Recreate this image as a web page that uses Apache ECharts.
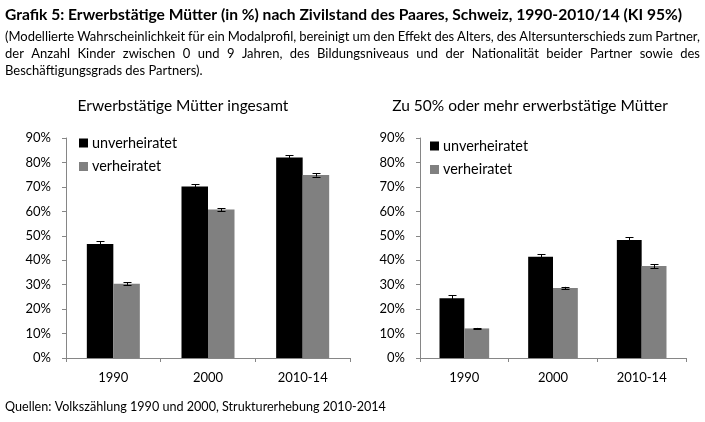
<!DOCTYPE html>
<html><head><meta charset="utf-8">
<script src="https://cdn.jsdelivr.net/npm/echarts@6/dist/echarts.min.js"></script>
<style>html,body{margin:0;padding:0;background:#fff}#c{width:705px;height:422px}</style>
</head><body><div id="c"></div>
<script>
const categories = ['1990', '2000', '2010-14'];
const seriesNames = ['unverheiratet', 'verheiratet'];
// Left panel: Erwerbstätige Mütter ingesamt
const leftUnverh = [46.6, 70.2, 82.0];
const leftVerh = [30.4, 60.7, 74.9];
const leftUnverhErr = [1.1, 0.8, 1.0];
const leftVerhErr = [0.5, 0.6, 0.7];
// Right panel: Zu 50% oder mehr erwerbstätige Mütter
const rightUnverh = [24.4, 41.4, 48.3];
const rightVerh = [12.1, 28.6, 37.6];
const rightUnverhErr = [1.3, 1.1, 1.1];
const rightVerhErr = [0.2, 0.5, 0.8];

const FONT = 'Lato, "Open Sans", sans-serif';
const GAP = 0.44;
const chart = echarts.init(document.getElementById('c'));

const mctx = document.createElement('canvas').getContext('2d');
function justifiedLine(text, x, y, width, font) {
  mctx.font = font;
  const words = text.split(' ');
  const ws = words.map(w => mctx.measureText(w).width);
  const total = ws.reduce((a, b) => a + b, 0);
  const gap = (width - total) / (words.length - 1);
  let cx = x;
  return words.map((w, i) => {
    const el = { type: 'text', x: cx, y: y, style: { text: w, font: font, fill: '#000', textVerticalAlign: 'middle' } };
    cx += ws[i] + gap;
    return el;
  });
}

function errSeries(idx, vals, errs, side) {
  return {
    type: 'custom', xAxisIndex: idx, yAxisIndex: idx, z: 5,
    data: categories.map((c, i) => [i, vals[i] - errs[i], vals[i] + errs[i]]),
    renderItem: function (params, api) {
      const band = api.size([1, 0])[0];
      const bw = band * (1 - GAP) / 2;
      const lo = api.coord([api.value(0), api.value(1)]);
      const hi = api.coord([api.value(0), api.value(2)]);
      const x = Math.round(lo[0] + side * bw / 2) + 0.5;
      const cap = 4;
      const st = { stroke: '#000', lineWidth: 1 };
      return { type: 'group', children: [
        { type: 'line', shape: { x1: x, y1: lo[1], x2: x, y2: hi[1] }, style: st },
        { type: 'line', shape: { x1: x - cap, y1: Math.round(lo[1]) + 0.5, x2: x + cap, y2: Math.round(lo[1]) + 0.5 }, style: st },
        { type: 'line', shape: { x1: x - cap, y1: Math.round(hi[1]) + 0.5, x2: x + cap, y2: Math.round(hi[1]) + 0.5 }, style: st }
      ]};
    },
    silent: true
  };
}

function xAx(gi) {
  return {
    type: 'category', gridIndex: gi, data: categories,
    axisLine: { lineStyle: { color: '#868686' } },
    axisTick: { show: true, length: 4, lineStyle: { color: '#868686' } },
    axisLabel: { color: '#000', fontSize: 13, fontFamily: FONT, margin: 13 }
  };
}
function yAx(gi) {
  return {
    type: 'value', gridIndex: gi, min: 0, max: 90, interval: 10,
    axisLine: { show: true, lineStyle: { color: '#868686' } },
    axisTick: { show: true, length: 4, lineStyle: { color: '#868686' } },
    splitLine: { show: false },
    axisLabel: { color: '#000', fontSize: 13, fontFamily: FONT, margin: 15, formatter: '{value}%' }
  };
}

function legendGraphic(x, y) {
  const items = [];
  seriesNames.forEach((n, i) => {
    const cy = y + i * 23.5;
    items.push({ type: 'rect', shape: { x: x, y: cy - 4.5, width: 9, height: 9 }, style: { fill: i === 0 ? '#000' : '#808080' } });
    items.push({ type: 'text', x: x + 13, y: cy, style: { text: n, font: '14.4px ' + FONT, fill: '#000', textVerticalAlign: 'middle' } });
  });
  return items;
}

const SUBFONT = '13px ' + FONT;
chart.setOption({
  animation: false,
  textStyle: { fontFamily: FONT },
  grid: [
    { left: 66, top: 138, width: 284, height: 220 },
    { left: 420, top: 138, width: 266, height: 220 }
  ],
  xAxis: [xAx(0), xAx(1)],
  yAxis: [yAx(0), yAx(1)],
  graphic: [
    { type: 'text', x: 5, y: 15, style: { text: 'Grafik 5: Erwerbstätige Mütter (in %) nach Zivilstand des Paares, Schweiz, 1990-2010/14 (KI 95%)', font: 'bold 15.6px ' + FONT, fill: '#000', textVerticalAlign: 'middle' } }
  ].concat(
    justifiedLine('(Modellierte Wahrscheinlichkeit für ein Modalprofil, bereinigt um den Effekt des Alters, des Altersunterschieds zum Partner,', 5, 37, 695, SUBFONT),
    justifiedLine('der Anzahl Kinder zwischen 0 und 9 Jahren, des Bildungsniveaus und der Nationalität beider Partner sowie des', 5, 54, 695, SUBFONT),
    [
      { type: 'text', x: 5, y: 71, style: { text: 'Beschäftigungsgrads des Partners).', font: SUBFONT, fill: '#000', textVerticalAlign: 'middle' } },
      { type: 'text', x: 183, y: 106, style: { text: 'Erwerbstätige Mütter ingesamt', font: '15.5px ' + FONT, fill: '#000', textAlign: 'center', textVerticalAlign: 'middle' } },
      { type: 'text', x: 530, y: 106, style: { text: 'Zu 50% oder mehr erwerbstätige Mütter', font: '15.5px ' + FONT, fill: '#000', textAlign: 'center', textVerticalAlign: 'middle' } },
      { type: 'text', x: 5, y: 407, style: { text: 'Quellen: Volkszählung 1990 und 2000, Strukturerhebung 2010-2014', font: '12.6px ' + FONT, fill: '#000', textVerticalAlign: 'middle' } }
    ],
    legendGraphic(79, 143), legendGraphic(430, 146)
  ),
  series: [
    { name: seriesNames[0], type: 'bar', xAxisIndex: 0, yAxisIndex: 0, data: leftUnverh, itemStyle: { color: '#000' }, barGap: '0%', barCategoryGap: GAP * 100 + '%' },
    { name: seriesNames[1], type: 'bar', xAxisIndex: 0, yAxisIndex: 0, data: leftVerh, itemStyle: { color: '#808080' }, barGap: '0%', barCategoryGap: GAP * 100 + '%' },
    { name: seriesNames[0], type: 'bar', xAxisIndex: 1, yAxisIndex: 1, data: rightUnverh, itemStyle: { color: '#000' }, barGap: '0%', barCategoryGap: GAP * 100 + '%' },
    { name: seriesNames[1], type: 'bar', xAxisIndex: 1, yAxisIndex: 1, data: rightVerh, itemStyle: { color: '#808080' }, barGap: '0%', barCategoryGap: GAP * 100 + '%' },
    errSeries(0, leftUnverh, leftUnverhErr, -1),
    errSeries(0, leftVerh, leftVerhErr, 1),
    errSeries(1, rightUnverh, rightUnverhErr, -1),
    errSeries(1, rightVerh, rightVerhErr, 1)
  ]
});
</script></body></html>
